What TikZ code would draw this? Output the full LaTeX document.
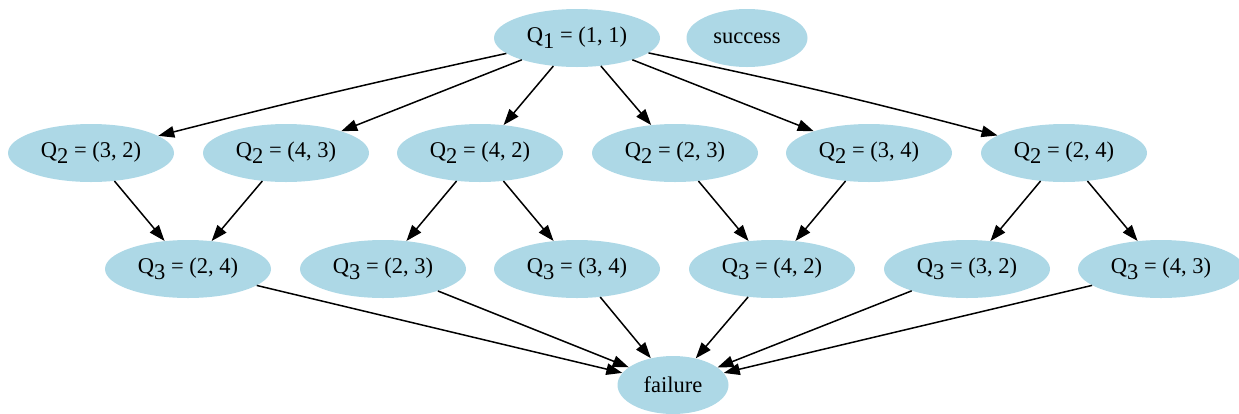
\documentclass[tikz,border=0pt]{standalone}
\usepackage{fontspec}
\setmainfont{Liberation Serif}
\usetikzlibrary{arrows.meta,shapes.geometric}
\definecolor{lightblue}{RGB}{173,216,230}
\newcommand{\qsub}[1]{\raisebox{-6pt}{#1}}
\begin{document}
\begin{tikzpicture}[
  x=1pt,y=-1pt,
  every node/.style={font=\fontsize{22.5}{26}\selectfont},
  state/.style={ellipse,fill=lightblue,draw=none,inner sep=0pt,
                minimum width=166pt,minimum height=58pt},
  endstate/.style={state,minimum width=121pt},
  tr/.style={-{Triangle[length=16pt,width=11.5pt]},line width=1.5pt}
]
\useasboundingbox (0,0) rectangle (1239,413);

\node[state]    (q1)  at (577,38)  {Q\qsub{1} = (1, 1)};
\node[endstate] (suc) at (747,38)  {success};

\node[state] (q2a) at (91,153)   {Q\qsub{2} = (3, 2)};
\node[state] (q2b) at (286,153)  {Q\qsub{2} = (4, 3)};
\node[state] (q2c) at (480,153)  {Q\qsub{2} = (4, 2)};
\node[state] (q2d) at (675,153)  {Q\qsub{2} = (2, 3)};
\node[state] (q2e) at (869,153)  {Q\qsub{2} = (3, 4)};
\node[state] (q2f) at (1064,153) {Q\qsub{2} = (2, 4)};

\node[state] (q3a) at (188,269)  {Q\qsub{3} = (2, 4)};
\node[state] (q3b) at (383,269)  {Q\qsub{3} = (2, 3)};
\node[state] (q3c) at (577,269)  {Q\qsub{3} = (3, 4)};
\node[state] (q3d) at (772,269)  {Q\qsub{3} = (4, 2)};
\node[state] (q3e) at (967,269)  {Q\qsub{3} = (3, 2)};
\node[state] (q3f) at (1161,269) {Q\qsub{3} = (4, 3)};

\node[endstate,minimum width=111pt] (fail) at (673,385) {failure};

% first move
\draw[tr] (q1) to[bend right=1] (q2a);
\draw[tr] (q1) -- (q2b);
\draw[tr] (q1) -- (q2c);
\draw[tr] (q1) -- (q2d);
\draw[tr] (q1) -- (q2e);
\draw[tr] (q1) to[bend left=1.5] (q2f);

% second move
\draw[tr] (q2a) -- (q3a);
\draw[tr] (q2b) -- (q3a);
\draw[tr] (q2c) -- (q3b);
\draw[tr] (q2c) -- (q3c);
\draw[tr] (q2d) -- (q3d);
\draw[tr] (q2e) -- (q3d);
\draw[tr] (q2f) -- (q3e);
\draw[tr] (q2f) -- (q3f);

% third move
\draw[tr] (q3a) -- (fail);
\draw[tr] (q3b) -- (fail);
\draw[tr] (q3c) -- (fail);
\draw[tr] (q3d) -- (fail);
\draw[tr] (q3e) -- (fail);
\draw[tr] (q3f) -- (fail);
\end{tikzpicture}
\end{document}
